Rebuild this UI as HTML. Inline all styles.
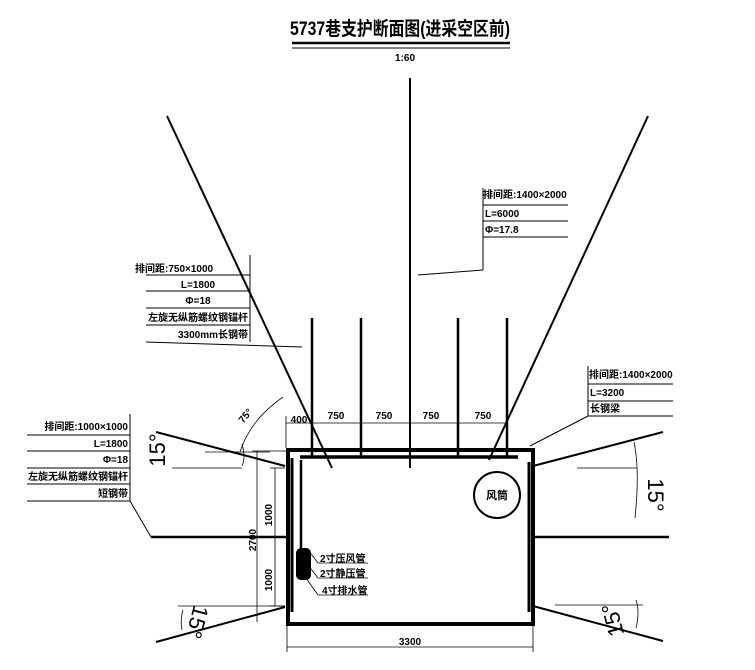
<!DOCTYPE html>
<html><head><meta charset="utf-8"><style>
body{margin:0;background:#fff}
svg text{font-family:"Liberation Sans","Noto Sans CJK SC",sans-serif;font-weight:bold;fill:#000}
</style></head><body>
<svg width="755" height="665" viewBox="0 0 755 665" xmlns="http://www.w3.org/2000/svg">
<text x="400" y="35" font-size="19" text-anchor="middle" textLength="220" lengthAdjust="spacingAndGlyphs">5737巷支护断面图(进采空区前)</text>
<line x1="292" y1="43" x2="510" y2="43" stroke="#000" stroke-width="2.5"/>
<line x1="292" y1="48" x2="510" y2="48" stroke="#000" stroke-width="1"/>
<text x="405" y="61" font-size="10" text-anchor="middle">1:60</text>

<g stroke="#000" fill="none">
<!-- fan lines -->
<line x1="167" y1="116" x2="332" y2="468" stroke-width="2"/>
<line x1="648" y1="116" x2="489" y2="460" stroke-width="2"/>
<line x1="410" y1="78" x2="410" y2="468" stroke-width="2"/>
<!-- bolts -->
<line x1="312" y1="318" x2="312" y2="458" stroke-width="2.5"/>
<line x1="361" y1="318" x2="361" y2="458" stroke-width="2.5"/>
<line x1="458" y1="318" x2="458" y2="458" stroke-width="2.5"/>
<line x1="507" y1="318" x2="507" y2="458" stroke-width="2.5"/>
<!-- top table -->
<line x1="483" y1="188" x2="483" y2="270" stroke-width="1"/>
<line x1="483" y1="270" x2="418" y2="275" stroke-width="1"/>
<line x1="483" y1="205" x2="568" y2="205" stroke-width="1"/>
<line x1="483" y1="221" x2="568" y2="221" stroke-width="1"/>
<line x1="483" y1="237" x2="568" y2="237" stroke-width="1"/>
<!-- upper left table -->
<line x1="250" y1="255" x2="250" y2="342" stroke-width="1"/>
<line x1="146" y1="275" x2="250" y2="275" stroke-width="1"/>
<line x1="146" y1="291" x2="250" y2="291" stroke-width="1"/>
<line x1="146" y1="308" x2="250" y2="308" stroke-width="1"/>
<line x1="146" y1="325" x2="250" y2="325" stroke-width="1"/>
<line x1="146" y1="342" x2="302" y2="347" stroke-width="1"/>
<!-- right table -->
<line x1="588" y1="366" x2="588" y2="416" stroke-width="1"/>
<line x1="588" y1="384" x2="673" y2="384" stroke-width="1"/>
<line x1="588" y1="401" x2="673" y2="401" stroke-width="1"/>
<line x1="588" y1="416" x2="673" y2="416" stroke-width="1"/>
<line x1="588" y1="416" x2="530" y2="446" stroke-width="1"/>
<!-- left table -->
<line x1="130" y1="414" x2="130" y2="501" stroke-width="1"/>
<line x1="27" y1="435" x2="130" y2="435" stroke-width="1"/>
<line x1="27" y1="451" x2="130" y2="451" stroke-width="1"/>
<line x1="27" y1="468" x2="130" y2="468" stroke-width="1"/>
<line x1="27" y1="484" x2="130" y2="484" stroke-width="1"/>
<line x1="27" y1="501" x2="130" y2="501" stroke-width="1"/>
<line x1="130" y1="501" x2="151" y2="537" stroke-width="1"/>
<!-- side bolts -->
<line x1="156" y1="432" x2="285" y2="466" stroke-width="2"/>
<line x1="151" y1="537" x2="290" y2="537" stroke-width="2.5"/>
<line x1="156" y1="642" x2="285" y2="607" stroke-width="2"/>
<line x1="533" y1="466" x2="663" y2="432" stroke-width="2"/>
<line x1="533" y1="537" x2="669" y2="537" stroke-width="2.5"/>
<line x1="533" y1="606" x2="663" y2="641" stroke-width="2"/>
<!-- angle helper lines -->
<line x1="205" y1="452" x2="270" y2="452" stroke-width="0.7"/>
<line x1="172" y1="468" x2="242" y2="468" stroke-width="0.7"/>
<line x1="178" y1="606" x2="285" y2="606" stroke-width="0.7"/>
<line x1="577" y1="468" x2="637" y2="468" stroke-width="0.7"/>
<line x1="555" y1="605" x2="643" y2="605" stroke-width="0.7"/>
<path d="M242 444 Q246 458 242 466" stroke-width="0.8"/>
<path d="M634 442 Q640 470 635 518" stroke-width="0.8"/>
<path d="M240 452 Q250 420 283 397" stroke-width="0.8"/>
<path d="M183 610 Q180 620 182 630" stroke-width="0.8"/>
<path d="M636 600 Q640 612 636 628" stroke-width="0.8"/>
<!-- rectangle -->
<rect x="288" y="450" width="245" height="174" stroke-width="4"/>
<line x1="300" y1="457" x2="518" y2="457" stroke-width="3.5"/>
<line x1="292" y1="458" x2="292" y2="612" stroke-width="3"/>
<line x1="529" y1="462" x2="529" y2="612" stroke-width="3"/>
<!-- dims top -->
<line x1="286" y1="423" x2="507" y2="423" stroke-width="0.8"/>
<line x1="286" y1="416" x2="286" y2="448" stroke-width="0.8"/>
<!-- dims left -->
<line x1="257" y1="451" x2="257" y2="622" stroke-width="0.8"/>
<line x1="275" y1="468" x2="275" y2="606" stroke-width="0.8"/>
<line x1="252" y1="451" x2="290" y2="451" stroke-width="0.8"/>
<line x1="270" y1="468" x2="285" y2="468" stroke-width="0.8"/>
<line x1="270" y1="606" x2="285" y2="606" stroke-width="0.8"/>
<!-- dims bottom -->
<line x1="287" y1="647" x2="533" y2="647" stroke-width="0.8"/>
<line x1="287" y1="626" x2="287" y2="652" stroke-width="0.8"/>
<line x1="533" y1="626" x2="533" y2="652" stroke-width="0.8"/>
<!-- pipe -->
<line x1="301" y1="460" x2="301" y2="550" stroke-width="2.5"/>
<line x1="308" y1="550" x2="318" y2="563" stroke-width="0.8"/>
<line x1="308" y1="565" x2="318" y2="578" stroke-width="0.8"/>
<line x1="306" y1="578" x2="318" y2="595" stroke-width="0.8"/>
<line x1="318" y1="563" x2="368" y2="563" stroke-width="0.8"/>
<line x1="318" y1="578" x2="368" y2="578" stroke-width="0.8"/>
<line x1="318" y1="595" x2="368" y2="595" stroke-width="0.8"/>
<circle cx="497" cy="495" r="23" stroke-width="2"/>
</g>
<rect x="296" y="548" width="15" height="32" rx="5" fill="#000"/>

<g font-size="10">
<text x="483" y="198">排间距:1400×2000</text>
<text x="485" y="217">L=6000</text>
<text x="485" y="233">Φ=17.8</text>
<text x="135" y="272">排间距:750×1000</text>
<text x="198" y="288" text-anchor="middle">L=1800</text>
<text x="198" y="304" text-anchor="middle">Φ=18</text>
<text x="148" y="321">左旋无纵筋螺纹钢锚杆</text>
<text x="248" y="338" text-anchor="end">3300mm长钢带</text>
<text x="589" y="378">排间距:1400×2000</text>
<text x="590" y="396">L=3200</text>
<text x="590" y="412">长钢梁</text>
<text x="128" y="430" text-anchor="end">排间距:1000×1000</text>
<text x="128" y="447" text-anchor="end">L=1800</text>
<text x="128" y="463" text-anchor="end">Φ=18</text>
<text x="128" y="480" text-anchor="end">左旋无纵筋螺纹钢锚杆</text>
<text x="128" y="497" text-anchor="end">短钢带</text>
<text x="299" y="423" text-anchor="middle">400</text>
<text x="336" y="419" text-anchor="middle">750</text>
<text x="384" y="419" text-anchor="middle">750</text>
<text x="431" y="419" text-anchor="middle">750</text>
<text x="483" y="419" text-anchor="middle">750</text>
<text x="320" y="562">2寸压风管</text>
<text x="320" y="577">2寸静压管</text>
<text x="322" y="594">4寸排水管</text>
<text x="497" y="499" text-anchor="middle" font-size="11">风筒</text>
<text x="410" y="645" text-anchor="middle">3300</text>
<text transform="translate(272,515) rotate(-90)" text-anchor="middle">1000</text>
<text transform="translate(272,580) rotate(-90)" text-anchor="middle">1000</text>
<text transform="translate(256,540) rotate(-90)" text-anchor="middle">2700</text>
<text transform="translate(248,418) rotate(-50)" text-anchor="middle">75°</text>
</g>
<g font-size="22" font-weight="normal">
<text transform="translate(165,450) rotate(-90)" text-anchor="middle" style="font-weight:normal">15°</text>
<text transform="translate(648,495) rotate(90)" text-anchor="middle" style="font-weight:normal">15°</text>
<text transform="translate(190,620) rotate(105)" text-anchor="middle" style="font-weight:normal">15°</text>
<text transform="translate(620,618) rotate(-105)" text-anchor="middle" style="font-weight:normal">15°</text>
</g>
</svg>
</body></html>
